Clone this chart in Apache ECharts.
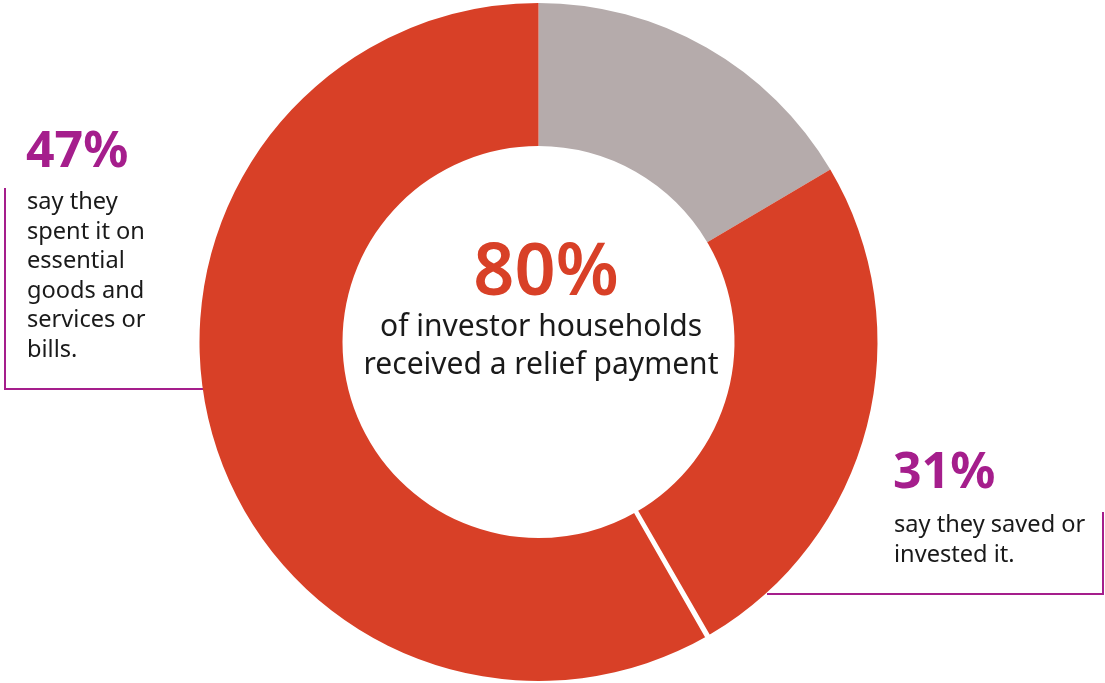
<!DOCTYPE html>
<html>
<head>
<meta charset="utf-8">
<script src="https://cdn.jsdelivr.net/npm/echarts@6/dist/echarts.min.js"></script>
<style>
html,body{margin:0;padding:0;background:#fff;}
#chart{width:1105px;height:683px;}
</style>
</head>
<body>
<div id="chart"></div>
<script>
// ---- data ----
const sliceNames = ['Did not receive a payment', 'Saved or invested it', 'Spent it on essentials or bills'];
const sliceValues = [16.5, 25.2, 58.3];
const sliceColors = ['#B5ABAB', '#D84027', '#D84027'];
const centerValue = '80%';
const centerText = ['of investor households', 'received a relief payment'];
const leftValue = '47%';
const leftText = ['say they', 'spent it on', 'essential', 'goods and', 'services or', 'bills.'];
const rightValue = '31%';
const rightText = ['say they saved or', 'invested it.'];

const FONT = '"Noto Sans", "Open Sans", sans-serif';
const PURPLE = '#A51E8C';
const RED = '#D84027';
const center = [538.5, 342];
const radius = [196, 339];

// separator between the two red slices (derived from data)
const tiny = 0.06;
const sepData = [
  { value: sliceValues[0] + sliceValues[1] - tiny / 2, itemStyle: { color: 'rgba(0,0,0,0)', borderWidth: 0 } },
  { value: tiny, itemStyle: { color: '#fff', borderColor: '#fff', borderWidth: 4 } },
  { value: sliceValues[2] - tiny / 2, itemStyle: { color: 'rgba(0,0,0,0)', borderWidth: 0 } }
];

const chart = echarts.init(document.getElementById('chart'), null, { renderer: 'canvas' });
chart.setOption({
  animation: false,
  backgroundColor: '#fff',
  series: [
    {
      type: 'pie',
      center: center,
      radius: radius,
      startAngle: 90,
      clockwise: true,
      silent: true,
      label: { show: false },
      labelLine: { show: false },
      itemStyle: { borderWidth: 0 },
      data: sliceNames.map((n, i) => ({ name: n, value: sliceValues[i], itemStyle: { color: sliceColors[i] } }))
    },
    {
      type: 'pie',
      center: center,
      radius: radius,
      startAngle: 90,
      clockwise: true,
      silent: true,
      z: 3,
      label: { show: false },
      labelLine: { show: false },
      data: sepData
    }
  ],
  graphic: [
    { type: 'polyline', shape: { points: [[5, 188], [5, 389], [205, 389]] }, style: { stroke: PURPLE, lineWidth: 2, fill: null } },
    { type: 'polyline', shape: { points: [[1103, 512], [1103, 594], [767, 594]] }, style: { stroke: PURPLE, lineWidth: 2, fill: null } },
    { type: 'text', x: 26, y: 153, style: { text: leftValue, font: '700 50px ' + FONT, fill: PURPLE, textAlign: 'left', textVerticalAlign: 'middle' } },
    { type: 'text', x: 27, y: 188, style: { text: leftText.join('\n'), font: '400 23.6px ' + FONT, fill: '#1a1a1a', lineHeight: 29.5, textAlign: 'left', textVerticalAlign: 'top' } },
    { type: 'text', x: 893, y: 474, style: { text: rightValue, font: '700 50px ' + FONT, fill: PURPLE, textAlign: 'left', textVerticalAlign: 'middle' } },
    { type: 'text', x: 894, y: 511, style: { text: rightText.join('\n'), font: '400 23.6px ' + FONT, fill: '#1a1a1a', lineHeight: 29.5, textAlign: 'left', textVerticalAlign: 'top' } },
    { type: 'text', x: 546, y: 274, style: { text: centerValue, font: '600 72px ' + FONT, fill: RED, textAlign: 'center', textVerticalAlign: 'middle' } },
    { type: 'text', x: 541, y: 308, style: { text: centerText.join('\n'), font: '400 30px ' + FONT, fill: '#1a1a1a', lineHeight: 38, textAlign: 'center', textVerticalAlign: 'top' } }
  ]
});
</script>
</body>
</html>
